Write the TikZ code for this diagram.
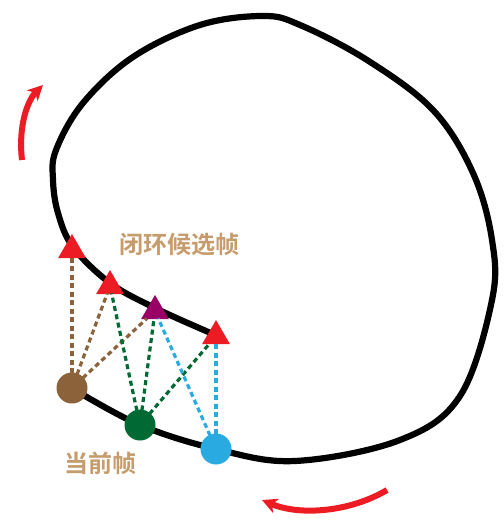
\documentclass[tikz,border=0pt]{standalone}
\usepackage{fontspec}
\newfontfamily\cjk{Noto Sans CJK SC Bold}
\usetikzlibrary{shapes.geometric,arrows.meta}
\definecolor{myred}{HTML}{ED1C24}
\definecolor{mybrown}{HTML}{8B6239}
\definecolor{mygreen}{HTML}{006934}
\definecolor{myblue}{HTML}{29ABE2}
\definecolor{mypurple}{HTML}{990066}
\definecolor{mytan}{HTML}{C69C6D}
\tikzset{
  tri/.style={regular polygon, regular polygon sides=3, minimum size=32pt, inner sep=0pt, fill=#1, draw=none},
  dot/.style={circle, minimum size=31pt, inner sep=0pt, fill=#1, draw=none},
  link/.style={draw=#1, line width=3.2pt, dash pattern=on 5pt off 3.5pt, shorten <=-1pt, shorten >=-1pt},
  motion/.style={draw=myred, line width=6pt, -{Stealth[length=15pt,width=15pt,inset=4pt]}},
  lbl/.style={text=mytan, font=\cjk\fontsize{24pt}{26pt}\selectfont, inner sep=0pt}
}
\begin{document}
\begin{tikzpicture}[x=1pt,y=-1pt]
\useasboundingbox (0,0) rectangle (503,526);
% trajectory
\draw[line width=6.2pt, line cap=round] plot[smooth, tension=0.6] coordinates {
 (75,390) (140,425) (216,449) (295,461) (400,440) (460,396) (492,300) (492,240)
 (473,173) (433,110) (367,60) (300,25) (263,16) (200,25) (133,57) (83,103)
 (56,150) (53,180) (58,213) (73,247) (110,283) (155,308) (213,334)};
% motion arrows
\draw[motion] (22,160) .. controls (18,125) and (28,100) .. (43,85);
\draw[motion] (387,490) .. controls (350,512) and (300,516) .. (262,500);
% frames
\node[tri=myred] (t1) at (72,250) {};
\node[tri=myred] (t2) at (110,286) {};
\node[tri=mypurple] (t3) at (155,311) {};
\node[tri=myred] (t4) at (216,336) {};
\node[dot=mybrown] (c1) at (72,388) {};
\node[dot=mygreen] (c2) at (140,425) {};
\node[dot=myblue] (c3) at (216,449) {};
% links
\draw[link=mybrown] (c1) -- (t1);
\draw[link=mybrown] (c1) -- (t2);
\draw[link=mybrown] (c1) -- (t3);
\draw[link=mygreen] (c2) -- (t2);
\draw[link=mygreen] (c2) -- (t3);
\draw[link=mygreen] (c2) -- (t4);
\draw[link=myblue] (c3) -- (t3);
\draw[link=myblue] (c3) -- (t4);
% labels
\node[lbl] (l1) at (179,245) {闭环候选帧};
\node[lbl] (l2) at (100,463) {当前帧};
\end{tikzpicture}
\end{document}
